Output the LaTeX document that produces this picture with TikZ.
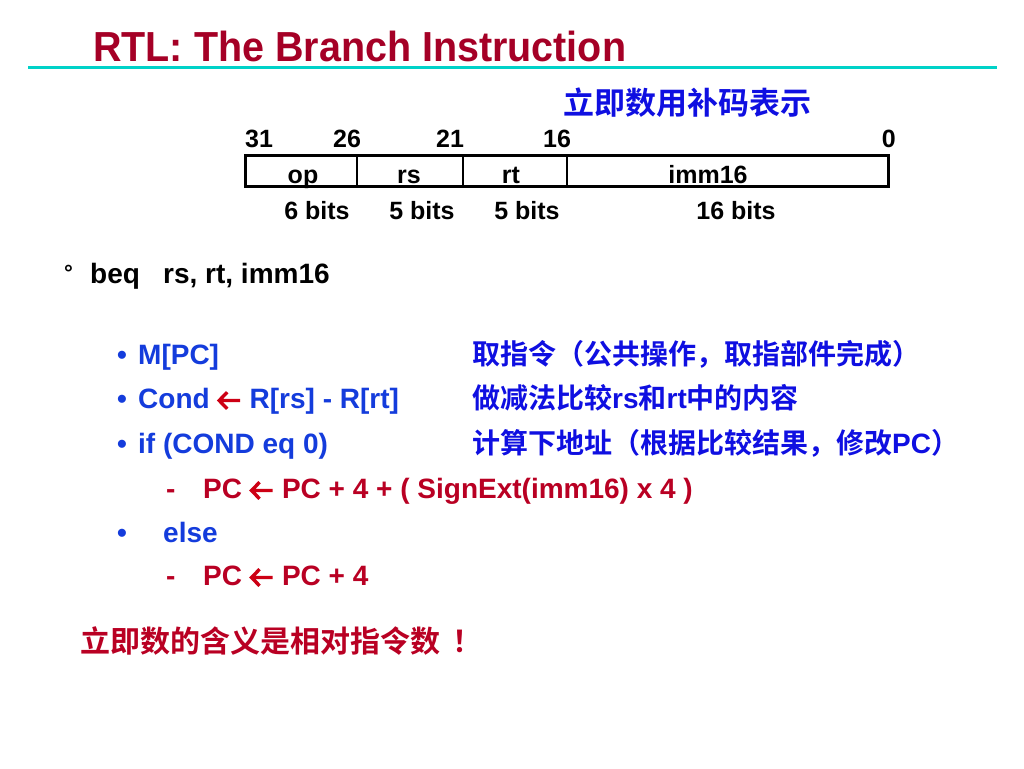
\documentclass[tikz,border=0pt]{standalone}
\usepackage{fontspec}
\usepackage{graphicx}
\setmainfont{Liberation Sans}
\newfontfamily\cjk{Noto Sans CJK SC}[BoldFont={Noto Sans CJK SC Bold}]

\definecolor{titlered}{RGB}{165,0,38}
\definecolor{textred}{RGB}{185,0,35}
\definecolor{arrowred}{RGB}{205,0,20}
\definecolor{textblue}{RGB}{20,60,220}
\definecolor{cjkblue}{RGB}{15,15,225}
\definecolor{ruleteal}{RGB}{0,210,200}

% thick left arrow as in the slide
\newcommand{\larrow}{\tikz[baseline=-7.5pt, x=1pt, y=1pt]
  \draw[arrowred, line width=3.4pt, miter limit=4]
    (22.5,0) -- (1.5,0) (9.5,8.3) -- (1.5,0) -- (9.5,-8.3);}

\tikzset{
  titletext/.style={anchor=base west, inner sep=0pt, text=titlered,
    font=\fontsize{42}{42}\selectfont\bfseries},
  bodytext/.style={anchor=base west, inner sep=0pt,
    font=\fontsize{28}{28}\selectfont\bfseries},
  cjktext/.style={anchor=base west, inner sep=0pt,
    font=\fontsize{28}{28}\selectfont\cjk\bfseries},
  fieldtext/.style={anchor=base, inner sep=0pt,
    font=\fontsize{25}{25}\selectfont\bfseries},
}

\begin{document}
\begin{tikzpicture}[x=1pt, y=-1pt]

  \fill[white] (0,0) rectangle (1024,768);
  \useasboundingbox (0,0) rectangle (1024,768);

  % title
  \node[titletext] (title) at (93,61) {\scalebox{0.94}[1]{RTL: The Branch Instruction}};
  \draw[ruleteal, line width=3pt] (28,67) -- (997,67);

  % instruction format
  \node[cjktext, text=cjkblue, font=\fontsize{31}{31}\selectfont\cjk\bfseries] (immnote) at (563,114) {立即数用补码表示};

  \node[fieldtext, anchor=base west] (b31) at (245,147) {31};
  \node[fieldtext] (b26) at (347,147) {26};
  \node[fieldtext] (b21) at (450,147) {21};
  \node[fieldtext] (b16) at (557,147) {16};
  \node[fieldtext, anchor=base east] (b0) at (896,147) {0};

  \draw[line width=3pt] (245,155) rectangle (888,186);
  \foreach \xd in {357,463,567}
    \draw[line width=2pt] (\xd,155) -- (\xd,186);

  \foreach \lab/\xc in {op/303, rs/409, rt/511, imm16/708}
    \node[fieldtext] (f\lab) at (\xc,183) {\lab};

  \node[fieldtext] (wop) at (317,219) {6 bits};
  \node[fieldtext] (wrs) at (422,219) {5 bits};
  \node[fieldtext] (wrt) at (527,219) {5 bits};
  \node[fieldtext] (wimm) at (736,219) {16 bits};

  % instruction
  \node[bodytext, font=\fontsize{22}{22}\selectfont\bfseries] (ring) at (64,280) {°};
  \node[bodytext] (beq) at (90,283) {beq};
  \node[bodytext] (args) at (163,283) {rs, rt, imm16};

  % RTL steps
  \foreach \yb in {364,408,453,542}
    \node[bodytext, text=textblue] at (117,\yb) {•};
  \foreach \yb in {498,585}
    \node[bodytext, text=textred] at (166,\yb) {-};

  \node[bodytext, text=textblue] (fetch) at (138,364) {M[PC]};
  \node[bodytext, text=textblue] (cond) at (138,408) {Cond \larrow{} R[rs] - R[rt]};
  \node[bodytext, text=textblue] (test) at (138,453) {if (COND eq 0)};
  \node[bodytext, text=textred] (taken) at (203,498) {PC \larrow{} PC + 4 + ( SignExt(imm16) x 4 )};
  \node[bodytext, text=textblue] (other) at (163,542) {else};
  \node[bodytext, text=textred] (next) at (203,585) {PC \larrow{} PC + 4};

  % notes
  \node[cjktext, text=cjkblue] (nfetch) at (472,364) {取指令（公共操作，取指部件完成）};
  \node[cjktext, text=cjkblue] (ncond) at (472,408) {做减法比较{\rmfamily rs}和{\rmfamily rt}中的内容};
  \node[cjktext, text=cjkblue] (ntest) at (472,453) {计算下地址（根据比较结果，修改{\rmfamily PC}）};

  \node[cjktext, text=textred, font=\fontsize{30}{30}\selectfont\cjk\bfseries] (summary) at (80,652) {立即数的含义是相对指令数\kern12pt！};

\end{tikzpicture}
\end{document}
